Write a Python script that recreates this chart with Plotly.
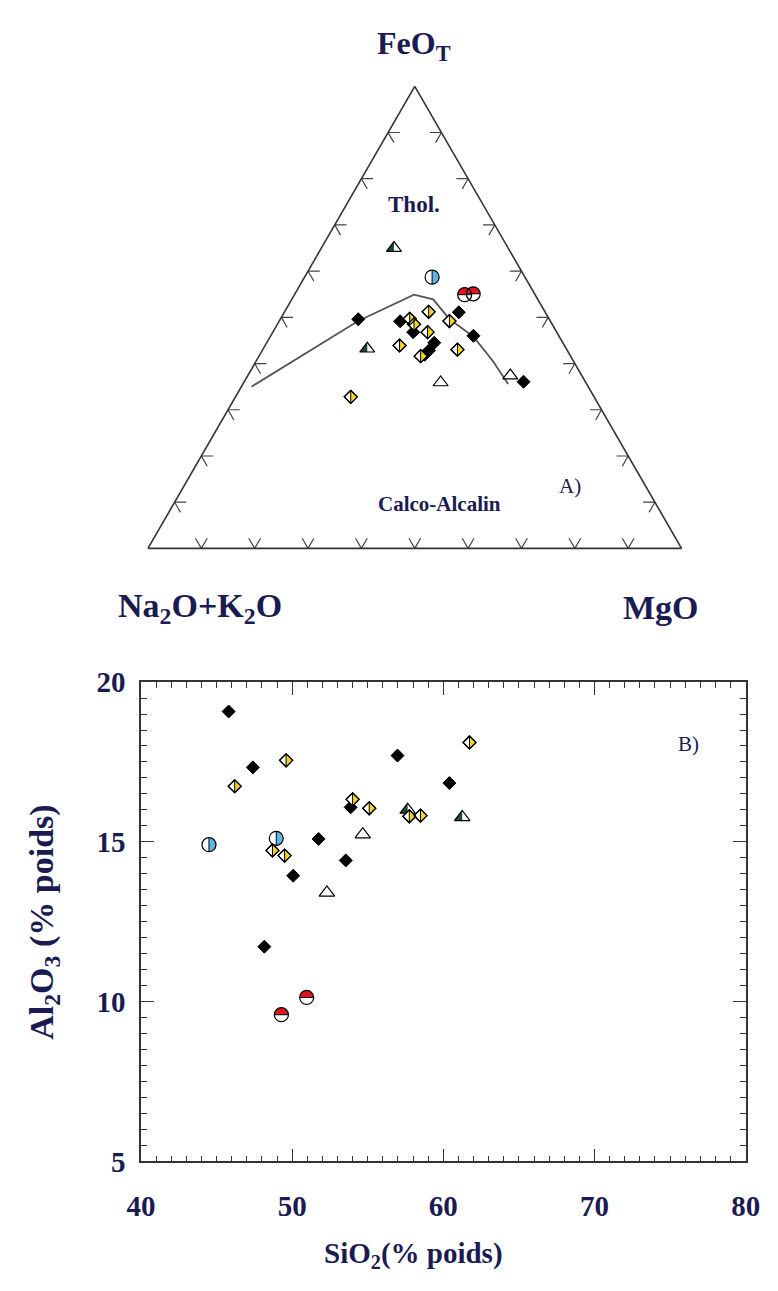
import plotly.graph_objects as go

W, H = 778, 1291
NAVY = '#1b1b52'
YEL = '#f3d51b'
BLUE = '#5fb6e4'
RED = '#e3141b'
DKGRN = '#254536'
LINE = '#333333'
FONT = 'Liberation Serif'

# ---------------- Ternary diagram data (FeOT, Na2O+K2O, MgO ; %) ----------------
tern_ticks = [10, 20, 30, 40, 50, 60, 70, 80, 90]

bound_fe = [35.0, 49.2, 54.9, 53.9, 49.6, 45.8, 40.6, 35.6]
bound_alk = [63.1, 36.0, 22.7, 19.6, 18.7, 16.1, 15.1, 14.7]
bound_mg = [1.9, 14.8, 22.4, 26.5, 31.7, 38.1, 44.3, 49.7]

t_blk_fe = [49.6, 49.2, 46.8, 44.5, 42.8, 41.9, 51.1, 46.0, 36.1]
t_blk_alk = [35.8, 28.2, 26.9, 24.1, 25.9, 27.2, 16.2, 16.0, 11.6]
t_blk_mg = [14.6, 22.7, 26.3, 31.4, 31.2, 30.9, 32.7, 38.0, 52.4]

t_yel_fe = [49.7, 48.5, 51.2, 46.8, 41.6, 43.9, 49.2, 43.0, 32.8]
t_yel_alk = [26.1, 25.9, 21.8, 24.2, 28.1, 30.9, 18.9, 20.5, 45.6]
t_yel_mg = [24.2, 25.6, 27.0, 29.0, 30.3, 25.2, 31.9, 36.5, 21.6]

t_blu_fe = [58.7, 54.4]
t_blu_alk = [17.4, 12.5]
t_blu_mg = [23.9, 33.1]

t_red_fe = [54.9, 55.1]
t_red_alk = [13.2, 11.5]
t_red_mg = [31.9, 33.4]

t_opn_fe = [35.9, 37.4]
t_opn_alk = [27.2, 13.4]
t_opn_mg = [36.9, 49.2]

t_dkt_fe = [65.0, 43.2]
t_dkt_alk = [21.4, 37.3]
t_dkt_mg = [13.6, 19.5]

# ---------------- Al2O3 vs SiO2 data ----------------
s_blk_x = [45.8, 47.4, 56.97, 60.4, 53.87, 51.75, 53.55, 50.07, 48.16]
s_blk_y = [19.08, 17.33, 17.70, 16.84, 16.08, 15.09, 14.42, 13.94, 11.72]

s_yel_x = [49.6, 46.2, 61.73, 54.0, 55.1, 57.75, 58.49, 48.7, 49.5]
s_yel_y = [17.55, 16.74, 18.11, 16.33, 16.05, 15.80, 15.82, 14.73, 14.57]

s_blu_x = [44.5, 48.95]
s_blu_y = [14.91, 15.11]

s_red_x = [50.96, 49.29]
s_red_y = [10.13, 9.59]

s_opn_x = [54.67, 52.3]
s_opn_y = [15.23, 13.41]

s_dkt_x = [57.64, 61.25]
s_dkt_y = [16.0, 15.77]

x_ticks = [40, 50, 60, 70, 80]
y_ticks = [5, 10, 15, 20]

fig = go.Figure()


def tern(a, b, c, marker=None, mode='markers', line=None):
    fig.add_trace(go.Scatterternary(a=a, b=b, c=c, mode=mode, marker=marker, line=line,
                                    showlegend=False, hoverinfo='skip', cliponaxis=False))


def xy(x, y, marker):
    fig.add_trace(go.Scatter(x=x, y=y, mode='markers', marker=marker, xaxis='x', yaxis='y',
                             showlegend=False, hoverinfo='skip', cliponaxis=False))


# marker layer recipes (half-filled symbols)
def half_diamond(S):
    St = 0.9 * S
    return [
        dict(symbol='diamond', size=S, color='white', line=dict(color='black', width=1.2)),
        dict(symbol='triangle-down', size=St, angle=-90, standoff=St / 4, color=YEL, line=dict(width=0)),
        dict(symbol='diamond-open', size=S, color='black', line=dict(color='black', width=1.2)),
        dict(symbol='line-ns', size=S * 0.93, color='black', line=dict(color='black', width=1)),
    ]


def black_diamond(S):
    return [dict(symbol='diamond', size=S, color='black', line=dict(color='black', width=1))]


def half_circle_lr(S):  # right half blue
    m = S + 2
    return [
        dict(symbol='circle', size=S, color=BLUE, line=dict(width=0)),
        dict(symbol='square', size=m, angle=90, standoff=m / 2, color='white', line=dict(width=0)),
        dict(symbol='circle-open', size=S, color='black', line=dict(color='black', width=1.2)),
        dict(symbol='line-ns', size=S / 1.4, color='black', line=dict(color='black', width=1)),
    ]


def half_circle_tb(S):  # top half red
    m = S + 2
    return [
        dict(symbol='circle', size=S, color=RED, line=dict(width=0)),
        dict(symbol='square', size=m, angle=0, standoff=m / 2, color='white', line=dict(width=0)),
        dict(symbol='circle-open', size=S, color='black', line=dict(color='black', width=1.2)),
        dict(symbol='line-ew', size=S / 1.4, color='black', line=dict(color='black', width=1)),
    ]


def open_tri(S):
    return [dict(symbol='triangle-up', size=S, color='white', line=dict(color='black', width=1.2))]


def dark_tri(S):
    m = S + 3
    return [
        dict(symbol='triangle-up', size=S, color=DKGRN, line=dict(width=0)),
        dict(symbol='square', size=m, angle=-90, standoff=m / 2, color='white', line=dict(width=0)),
        dict(symbol='triangle-up-open', size=S, color='black', line=dict(color='black', width=1.2)),
    ]


# ---------------- ternary decorations ----------------
d = 2.2
ca, cb, cc = [], [], []
for t in tern_ticks:
    segs = [
        [(d, 100 - t - d, t), (0, 100 - t, t), (d, 100 - t, t - d)],          # base (V)
        [(t, 100 - t - d, d), (t, 100 - t, 0), (t - d, 100 - t, d)],          # left edge
        [(t, d, 100 - t - d), (t, 0, 100 - t), (t - d, d, 100 - t)],          # right edge
    ]
    for seg in segs:
        for p in seg:
            ca.append(p[0]); cb.append(p[1]); cc.append(p[2])
        ca.append(None); cb.append(None); cc.append(None)
tern(ca, cb, cc, mode='lines', line=dict(color='#444444', width=1.2))

tern(bound_fe, bound_alk, bound_mg, mode='lines', line=dict(color='#555555', width=1.8))

for mk in half_circle_lr(14):
    tern(t_blu_fe, t_blu_alk, t_blu_mg, marker=mk)
for mk in half_circle_tb(14):
    tern(t_red_fe, t_red_alk, t_red_mg, marker=mk)
for mk in dark_tri(13):
    tern(t_dkt_fe, t_dkt_alk, t_dkt_mg, marker=mk)
for mk in open_tri(13):
    tern(t_opn_fe, t_opn_alk, t_opn_mg, marker=mk)
for mk in black_diamond(10):
    tern(t_blk_fe, t_blk_alk, t_blk_mg, marker=mk)
for mk in half_diamond(10):
    tern(t_yel_fe, t_yel_alk, t_yel_mg, marker=mk)

# ---------------- scatter ----------------
for mk in half_circle_lr(14):
    xy(s_blu_x, s_blu_y, mk)
for mk in half_circle_tb(14):
    xy(s_red_x, s_red_y, mk)
for mk in dark_tri(13.5):
    xy(s_dkt_x, s_dkt_y, mk)
for mk in open_tri(13.5):
    xy(s_opn_x, s_opn_y, mk)
for mk in black_diamond(10):
    xy(s_blk_x, s_blk_y, mk)
for mk in half_diamond(10):
    xy(s_yel_x, s_yel_y, mk)

# ---------------- layout ----------------
tern_l, tern_r, tern_t, tern_b = 138.3, 693.3, 68.7, 549.3
taxis = dict(showline=True, linecolor=LINE, linewidth=1.6, showgrid=False,
             showticklabels=False, ticks='', title=dict(text=''))

tickfont = dict(family=FONT, size=29, color=NAVY, weight='bold')
fig.update_layout(
    width=W, height=H, margin=dict(l=0, r=0, t=0, b=0),
    paper_bgcolor='white', plot_bgcolor='white', showlegend=False,
    ternary=dict(sum=100, bgcolor='white',
                 domain=dict(x=[tern_l / W, tern_r / W], y=[1 - tern_b / H, 1 - tern_t / H]),
                 aaxis=taxis, baxis=taxis, caxis=taxis),
    xaxis=dict(domain=[131 / W, 760 / W], range=[40, 80], anchor='y',
               showline=True, linecolor=LINE, linewidth=1.5, mirror='allticks',
               ticks='inside', ticklen=13, tickwidth=1.2, tickcolor=LINE,
               tickvals=x_ticks, ticktext=[str(v) for v in x_ticks], tickfont=tickfont,
               ticklabelstandoff=18,
               minor=dict(ticks='inside', ticklen=6, dtick=1, tickcolor=LINE, tickwidth=1),
               showgrid=False, zeroline=False),
    yaxis=dict(domain=[1 - 1174.5 / H, 1 - 683 / H], range=[5, 20], anchor='x',
               showline=True, linecolor=LINE, linewidth=1.5, mirror='allticks',
               ticks='inside', ticklen=13, tickwidth=1.2, tickcolor=LINE,
               tickvals=y_ticks, ticktext=[str(v) for v in y_ticks], tickfont=tickfont,
               ticklabelstandoff=8,
               minor=dict(ticks='inside', ticklen=6, dtick=0.5, tickcolor=LINE, tickwidth=1),
               showgrid=False, zeroline=False),
)


def ann(text, x, y, size, bold=True, angle=0):
    fig.add_annotation(text=text, x=x / W, y=1 - y / H, xref='paper', yref='paper',
                       showarrow=False, textangle=angle, xanchor='center', yanchor='middle',
                       font=dict(family=FONT, size=size, color=NAVY,
                                 weight='bold' if bold else 'normal'))


ann('FeO<sub>T</sub>', 415, 30, 32)
ann('Thol.', 415, 193, 23)
ann('Calco-Alcalin', 442, 500, 21)
ann('A)', 577, 482, 21, bold=False)
ann('Na<sub>2</sub>O+K<sub>2</sub>O', 192, 607, 34)
ann('MgO', 672, 607, 34)
ann('B)', 700, 746, 21, bold=False)
ann('SiO<sub>2</sub>(% poids)', 415, 1270, 29)
ann('Al<sub>2</sub>O<sub>3</sub> (% poids)', 30, 929, 34, angle=-90)

fig.write_html('out.html')
